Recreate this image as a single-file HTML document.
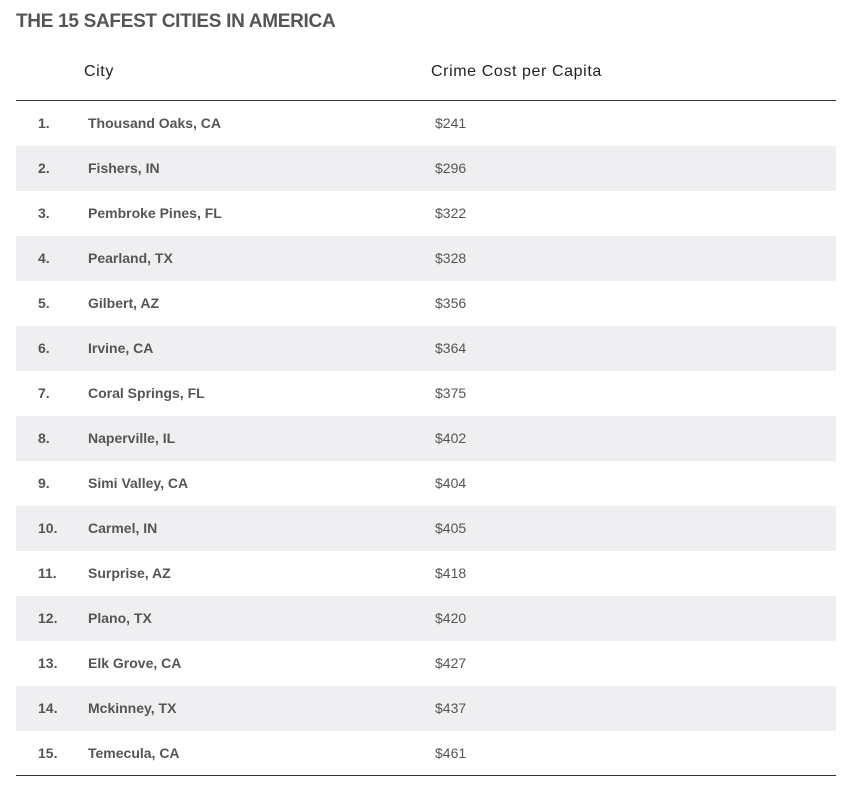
<!DOCTYPE html>
<html><head><meta charset="utf-8"><style>
body{margin:0;background:#fff;width:857px;height:790px;position:relative;font-family:"Liberation Sans",sans-serif;overflow:hidden}
#title{position:absolute;left:16px;top:11px;font-size:19px;font-weight:bold;color:#555;letter-spacing:-0.3px}
.hdr{position:absolute;top:63px;font-size:16px;color:#222;letter-spacing:0.6px}
.rule{position:absolute;left:16px;width:820px;height:1px;background:#333}
.row{position:absolute;left:16px;width:820px;height:45px}
.row span{position:absolute;top:14px;font-size:14px;color:#555}
.rank{left:22px;font-weight:bold}
.city{left:72px;font-weight:bold}
.val{left:419px}
</style></head><body>
<div id="title">THE 15 SAFEST CITIES IN AMERICA</div>
<div class="hdr" style="left:84px">City</div>
<div class="hdr" style="left:431px">Crime Cost per Capita</div>
<div class="rule" style="top:100px"></div>
<div id="rows"></div>
<div class="rule" style="top:775px"></div>
<script>
const cities=["Thousand Oaks, CA","Fishers, IN","Pembroke Pines, FL","Pearland, TX","Gilbert, AZ","Irvine, CA","Coral Springs, FL","Naperville, IL","Simi Valley, CA","Carmel, IN","Surprise, AZ","Plano, TX","Elk Grove, CA","Mckinney, TX","Temecula, CA"];
const costs=[241,296,322,328,356,364,375,402,404,405,418,420,427,437,461];
const body=document.getElementById('rows');
cities.forEach((c,i)=>{
  const r=document.createElement('div');
  r.className='row';
  r.style.top=(101+i*45)+'px';
  r.style.background=i%2?'#efeff1':'#fff';
  
  
  const a=document.createElement('span');a.className='rank';a.textContent=(i+1)+'.';
  
  
  const b=document.createElement('span');b.className='city';b.textContent=c;
  
  
  const v=document.createElement('span');v.className='val';v.textContent='$'+costs[i];
  
  
  r.append(a,b,v);body.appendChild(r);
});
</script>
</body></html>
